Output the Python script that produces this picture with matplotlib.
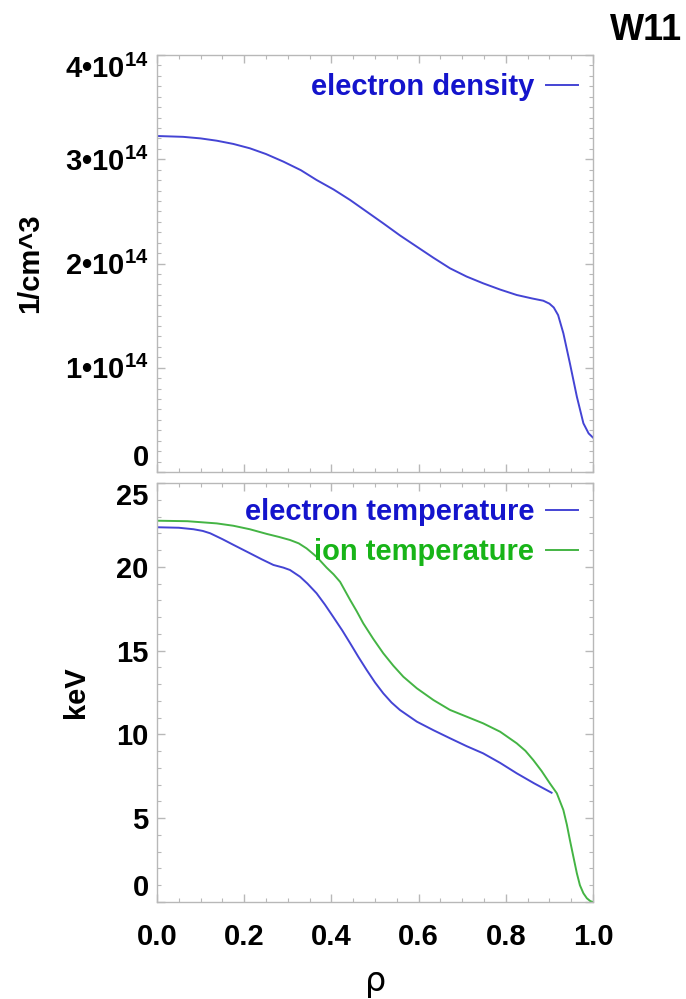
import matplotlib
matplotlib.use("Agg")
import matplotlib.pyplot as plt
from matplotlib.ticker import FixedLocator, MultipleLocator, FixedFormatter

plt.rcParams['font.family'] = ['Liberation Sans', 'DejaVu Sans']
plt.rcParams['font.weight'] = 'bold'
plt.rcParams['mathtext.fontset'] = 'custom'
plt.rcParams['mathtext.rm'] = 'Liberation Sans:bold'
plt.rcParams['mathtext.bf'] = 'Liberation Sans:bold'
plt.rcParams['mathtext.default'] = 'rm'

# ---- data ----
rho_ne = [0.0, 0.06, 0.10, 0.137, 0.175, 0.213, 0.25, 0.290, 0.33, 0.366, 0.405,
          0.443, 0.48, 0.519, 0.557, 0.596, 0.634, 0.672, 0.71, 0.748, 0.787,
          0.825, 0.86, 0.886, 0.90, 0.91, 0.92, 0.932, 0.947, 0.963, 0.978,
          0.99, 1.0]
ne = [3.223, 3.215, 3.200, 3.178, 3.147, 3.105, 3.05, 2.977, 2.895, 2.801, 2.71,
      2.609, 2.50, 2.385, 2.27, 2.161, 2.055, 1.954, 1.875, 1.810, 1.750,
      1.698, 1.665, 1.643, 1.615, 1.578, 1.505, 1.331, 1.043, 0.722, 0.467,
      0.37, 0.33]
ne = [v * 1e14 for v in ne]

rho_te = [0.0, 0.05, 0.084, 0.105, 0.122, 0.15, 0.176, 0.213, 0.24, 0.267, 0.29,
          0.305, 0.328, 0.345, 0.366, 0.385, 0.404, 0.425, 0.443, 0.462, 0.481,
          0.50, 0.519, 0.538, 0.557, 0.577, 0.596, 0.634, 0.672, 0.71, 0.748,
          0.787, 0.825, 0.865, 0.905]
te = [22.36, 22.33, 22.24, 22.14, 22.0, 21.65, 21.30, 20.81, 20.45, 20.11, 19.95,
      19.81, 19.41, 19.0, 18.42, 17.75, 17.02, 16.2, 15.44, 14.62, 13.84,
      13.1, 12.45, 11.9, 11.46, 11.1, 10.76, 10.25, 9.77, 9.3, 8.87,
      8.3, 7.68, 7.08, 6.52]

rho_ti = [0.0, 0.07, 0.137, 0.175, 0.213, 0.252, 0.28, 0.305, 0.325, 0.343, 0.366,
          0.389, 0.405, 0.420, 0.443, 0.458, 0.473, 0.496, 0.519, 0.542, 0.565,
          0.596, 0.634, 0.672, 0.710, 0.748, 0.787, 0.825, 0.845, 0.863, 0.882,
          0.901, 0.917, 0.932, 0.94, 0.947, 0.955, 0.963, 0.97, 0.978, 0.986,
          0.994, 1.0]
ti = [22.75, 22.72, 22.59, 22.45, 22.24, 21.96, 21.78, 21.60, 21.40, 21.10, 20.60,
      19.95, 19.55, 19.10, 18.02, 17.35, 16.63, 15.70, 14.84, 14.10, 13.44,
      12.75, 12.05, 11.46, 11.06, 10.66, 10.16, 9.47, 9.02, 8.47, 7.82,
      7.08, 6.49, 5.49, 4.62, 3.70, 2.70, 1.71, 1.00, 0.52, 0.22,
      0.05, 0.0]

ne_ticks = [0, 1e14, 2e14, 3e14, 4e14]
ne_ticklabels = ['0', '1•10$^{14}$', '2•10$^{14}$', '3•10$^{14}$', '4•10$^{14}$']
t_ticks = [0, 5, 10, 15, 20, 25]
x_ticks = [0.0, 0.2, 0.4, 0.6, 0.8, 1.0]
x_ticklabels = ['0.0', '0.2', '0.4', '0.6', '0.8', '1.0']

BLUE_LINE = '#4444d4'
BLUE_TEXT = '#1414cc'
GREEN_LINE = '#44b444'
GREEN_TEXT = '#18b418'
GRAY = '#b8b8b8'
FS = 21

W, H = 686, 999
fig = plt.figure(figsize=(W / 100, H / 100), dpi=100)

def ax_rect(l, t, r, b):
    return [l / W, 1 - b / H, (r - l) / W, (b - t) / H]

ax1 = fig.add_axes(ax_rect(157, 55, 593, 472))
ax2 = fig.add_axes(ax_rect(157, 483, 593, 902))

for ax in (ax1, ax2):
    for s in ax.spines.values():
        s.set_color(GRAY)
        s.set_linewidth(1.0)
    ax.set_xlim(0, 1)
    ax.xaxis.set_major_locator(FixedLocator(x_ticks))
    ax.xaxis.set_minor_locator(MultipleLocator(0.05))
    ax.tick_params(which='both', direction='in', color=GRAY, top=True, right=True,
                   labelsize=FS)
    ax.tick_params(which='major', length=6, width=1)
    ax.tick_params(which='minor', length=3, width=0.8)
    ax.tick_params(axis='y', pad=6)

# top panel
ax1.plot(rho_ne, ne, color=BLUE_LINE, lw=1.4, label='electron density')
ax1.set_ylim(0, 4e14)
ax1.yaxis.set_major_locator(FixedLocator(ne_ticks))
ax1.yaxis.set_major_formatter(FixedFormatter(ne_ticklabels))
ax1.yaxis.set_minor_locator(MultipleLocator(1e13))
ax1.tick_params(axis='x', labelbottom=False)
ax1.set_ylabel('1/cm^3', fontsize=FS, fontweight='bold')
ax1.yaxis.set_label_coords((44 - 157) / 436, 0.5)

# bottom panel
ax2.plot(rho_te, te, color=BLUE_LINE, lw=1.4, label='electron temperature')
ax2.plot(rho_ti, ti, color=GREEN_LINE, lw=1.4, label='ion temperature')
ax2.set_ylim(0, 25)
ax2.yaxis.set_major_locator(FixedLocator(t_ticks))
ax2.yaxis.set_minor_locator(MultipleLocator(1))
ax2.xaxis.set_major_formatter(FixedFormatter(x_ticklabels))
ax2.tick_params(axis='x', pad=15)
ax2.set_ylabel('keV', fontsize=FS, fontweight='bold')
ax2.yaxis.set_label_coords((90 - 157) / 436, 0.5)

for ax in (ax1, ax2):
    labs = ax.get_yticklabels()
    labs[0].set_verticalalignment('bottom')
    labs[-1].set_verticalalignment('top')
    for lab in ax.get_xticklabels() + ax.get_yticklabels():
        lab.set_fontweight('bold')

leg_kw = dict(loc='upper right', frameon=False, markerfirst=False, borderpad=0,
              borderaxespad=0, handlelength=1.1, handletextpad=0.4,
              labelspacing=0.42, prop={'size': FS, 'weight': 'bold'})
l1 = ax1.legend(bbox_to_anchor=((578 - 157) / 436, (472 - 73) / 417), **leg_kw)
for t in l1.get_texts():
    t.set_color(BLUE_TEXT)
l2 = ax2.legend(bbox_to_anchor=((578 - 157) / 436, (902 - 498) / 419), **leg_kw)
for t, c in zip(l2.get_texts(), [BLUE_TEXT, GREEN_TEXT]):
    t.set_color(c)

fig.text(682 / W, 1 - 30 / H, 'W11', ha='right', va='center', fontsize=26,
         fontweight='bold')
fig.text(376 / W, 1 - 982 / H, 'ρ', ha='center', va='center', fontsize=24,
         fontweight='normal', family=['DejaVu Sans'])

fig.savefig('out.png', dpi=100)
